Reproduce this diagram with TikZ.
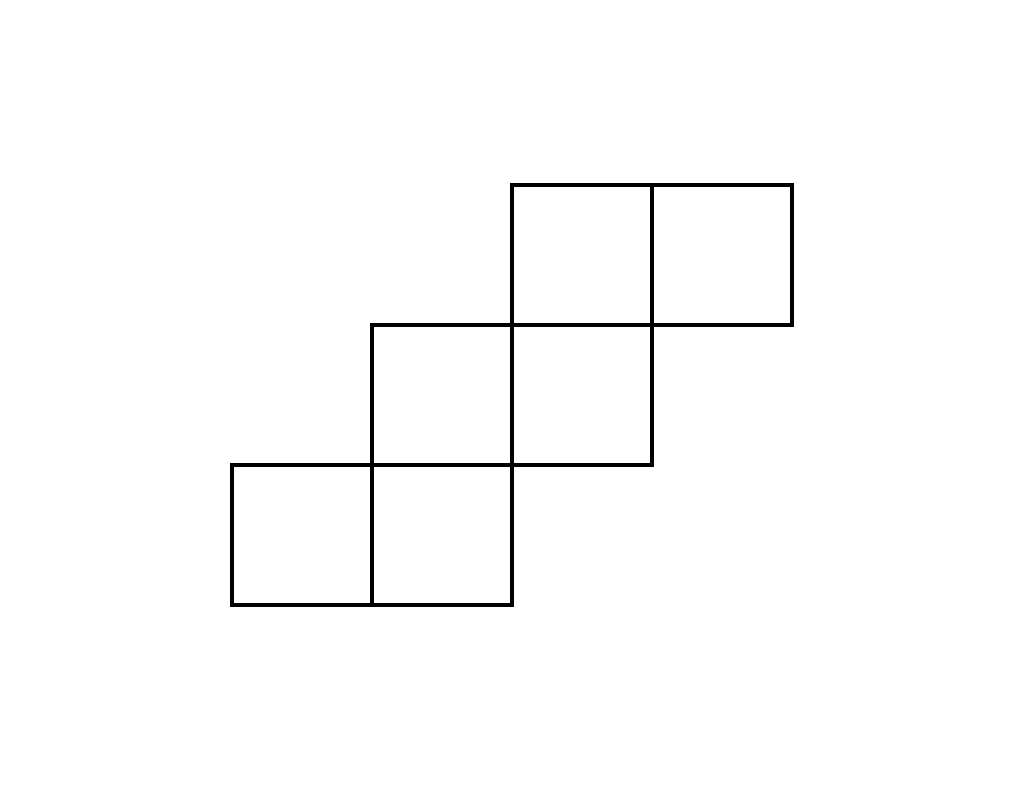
\documentclass[tikz,border=0pt]{standalone}
\usepackage{tikz}
\begin{document}
\begin{tikzpicture}[x=2cm, y=2cm]

\useasboundingbox (0,0) rectangle (7.314, 5.65);

\begin{scope}[shift={(1.657, 1.329)}, line width=1.9pt, line join=miter]
\draw [black] (0,0) rectangle (1,1);
\draw [black] (1,0) rectangle (2,1);

\draw [black] (1,1) rectangle (2,2);
\draw [black] (2,1) rectangle (3,2);

\draw [black] (2,2) rectangle (3,3);
\draw [black] (3,2) rectangle (4,3);
\end{scope}

\end{tikzpicture}
\end{document}
